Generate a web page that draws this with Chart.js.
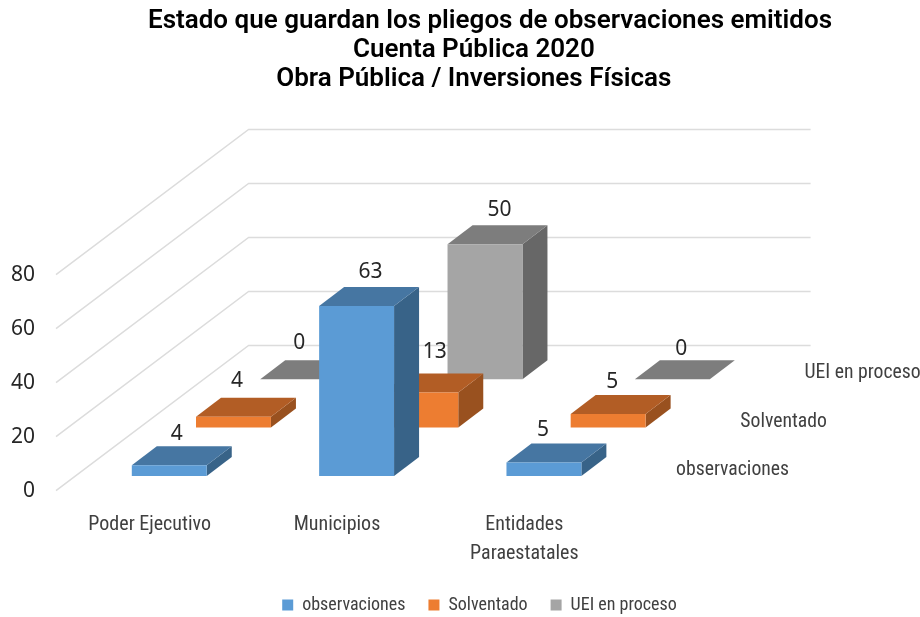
<!DOCTYPE html>
<html>
<head>
<meta charset="utf-8">
<title>Pliegos de observaciones</title>
<script src="https://cdn.jsdelivr.net/npm/chart.js@4"></script>
<style>
  html, body { margin: 0; padding: 0; background: #fff; }
  canvas { display: block; }
</style>
</head>
<body>
<canvas id="barChart" width="920" height="617"></canvas>
<script>
const categories = ["Poder Ejecutivo", "Municipios", ["Entidades", "Paraestatales"]];
const seriesNames = ["observaciones", "Solventado", "UEI en proceso"];
const observaciones = [4, 63, 5];
const solventado = [4, 13, 5];
const ueiEnProceso = [0, 50, 0];
// trailing spaces: the last two lines sit left of the first one in the original
const titleLines = [
  "Estado que guardan los pliegos de observaciones emitidos",
  "Cuenta Pública 2020     ",
  "Obra Pública / Inversiones Físicas     "
];

const frontColors = ["#5b9bd5", "#ed7d31", "#a5a5a5"];
const topColors = ["#4676a2", "#b25d25", "#7d7d7d"];
const sideColors = ["#386388", "#99511f", "#676767"];

// the floor goes back this far, one slot per series
const slotX = 64.2;
const slotY = -48.4;
const insetX = 19.6;
const insetY = -14.7;
const barDepthX = 25;
const barDepthY = -19;

// value labels were dragged by hand in the original, offsets from the bar top
const labelOffsetX = [[7.6, 14, -1], [3.5, 14, 4], [1.5, 14.4, 9]];
const labelOffsetY = [[-31.5, -34, -32.5], [-36, -40.5, -32.5], [-36.5, -34.5, -30.5]];

const narrowFont = "'Roboto Condensed', sans-serif";
const numberFont = "'Noto Sans', sans-serif";
const legendHeight = 24;

const depth3d = {
  id: "depth3d",

  beforeInit(chart) {
    const fitLegend = chart.legend.fit;
    chart.legend.fit = function () {
      fitLegend.call(this);
      this.height = legendHeight;
    };
  },

  afterLayout(chart) {
    // title and legend sit right of the canvas centre in the original
    chart.titleBlock.left = 60;
    chart.titleBlock.right = 920;
    chart.legend.left = 0;
    chart.legend.right = 959;
    chart.legend.top = 605 - 9 - chart.options.plugins.legend.labels.padding;
  },

  beforeDatasetsDraw(chart) {
    const { ctx, chartArea } = chart;
    const backX = slotX * seriesNames.length;
    const backY = slotY * seriesNames.length;
    ctx.save();
    ctx.strokeStyle = "#dcdcdc";
    ctx.lineWidth = 1.5;
    chart.scales.y.ticks.forEach(tick => {
      const y = chart.scales.y.getPixelForValue(tick.value);
      ctx.beginPath();
      ctx.moveTo(chartArea.left, y);
      ctx.lineTo(chartArea.left + backX, y + backY);
      ctx.lineTo(chartArea.right + backX, y + backY);
      ctx.stroke();
    });
    ctx.restore();
  },

  beforeDatasetDraw(chart, args) {
    const { ctx } = chart;
    const i = args.index;
    ctx.save();
    ctx.translate(insetX + slotX * i, insetY + slotY * i);
    args.meta.data.forEach(bar => {
      const left = bar.x - bar.width / 2;
      const right = bar.x + bar.width / 2;
      ctx.fillStyle = sideColors[i];
      ctx.beginPath();
      ctx.moveTo(right, bar.y);
      ctx.lineTo(right + barDepthX, bar.y + barDepthY);
      ctx.lineTo(right + barDepthX, bar.base + barDepthY);
      ctx.lineTo(right, bar.base);
      ctx.closePath();
      ctx.fill();
      ctx.fillStyle = topColors[i];
      ctx.beginPath();
      ctx.moveTo(left, bar.y);
      ctx.lineTo(right, bar.y);
      ctx.lineTo(right + barDepthX, bar.y + barDepthY);
      ctx.lineTo(left + barDepthX, bar.y + barDepthY);
      ctx.closePath();
      ctx.fill();
    });
  },

  afterDatasetDraw(chart) {
    chart.ctx.restore();
  },

  afterDatasetsDraw(chart) {
    const { ctx, chartArea } = chart;
    ctx.save();
    ctx.textBaseline = "middle";

    ctx.font = "21px " + numberFont;
    ctx.fillStyle = "#262626";
    ctx.textAlign = "center";
    chart.data.datasets.forEach((dataset, i) => {
      chart.getDatasetMeta(i).data.forEach((bar, j) => {
        const x = bar.x + insetX + slotX * i + labelOffsetX[i][j];
        const y = bar.y + insetY + slotY * i + labelOffsetY[i][j];
        ctx.fillText(dataset.data[j], x, y);
      });
    });

    // series names along the depth axis
    ctx.font = "19.7px " + narrowFont;
    ctx.fillStyle = "#404040";
    ctx.textAlign = "left";
    seriesNames.forEach((name, i) => {
      const x = chartArea.right + slotX * (i + 0.5) + 26;
      const y = chartArea.bottom + slotY * (i + 0.5) + 3.5;
      ctx.fillText(name, x, y);
    });
    ctx.restore();
  }
};

new Chart(document.getElementById("barChart"), {
  type: "bar",
  plugins: [depth3d],
  data: {
    labels: categories,
    datasets: [
      { label: seriesNames[0], data: observaciones, backgroundColor: frontColors[0], clip: false },
      { label: seriesNames[1], data: solventado, backgroundColor: frontColors[1], clip: false },
      { label: seriesNames[2], data: ueiEnProceso, backgroundColor: frontColors[2], clip: false }
    ]
  },
  options: {
    responsive: false,
    animation: false,
    grouped: false,
    barPercentage: 0.4,
    categoryPercentage: 1,
    layout: { padding: { left: 0, right: 302, top: 0, bottom: 0 } },
    scales: {
      x: {
        grid: { display: false },
        border: { display: false },
        afterFit(scale) { scale.height = 126.3 - legendHeight; },
        ticks: {
          padding: 12,
          autoSkip: false,
          maxRotation: 0,
          color: "#404040",
          font: { family: narrowFont, size: 20, lineHeight: 29 / 20 }
        }
      },
      y: {
        min: 0,
        max: 80,
        grid: { display: false },
        border: { display: false },
        afterFit(scale) { scale.width = 56; },
        ticks: {
          stepSize: 20,
          padding: 13,
          color: "#262626",
          font: { family: numberFont, size: 21 }
        }
      }
    },
    plugins: {
      tooltip: { enabled: false },
      title: {
        display: true,
        text: titleLines,
        color: "#000",
        padding: { top: 7, bottom: 180.7 },
        font: { family: "Roboto, sans-serif", size: 26, weight: 600, lineHeight: 29 / 26 }
      },
      legend: {
        position: "bottom",
        labels: {
          boxWidth: 11,
          boxHeight: 11,
          padding: 23,
          color: "#404040",
          font: { family: narrowFont, size: 18 }
        }
      }
    }
  }
});
</script>
</body>
</html>
